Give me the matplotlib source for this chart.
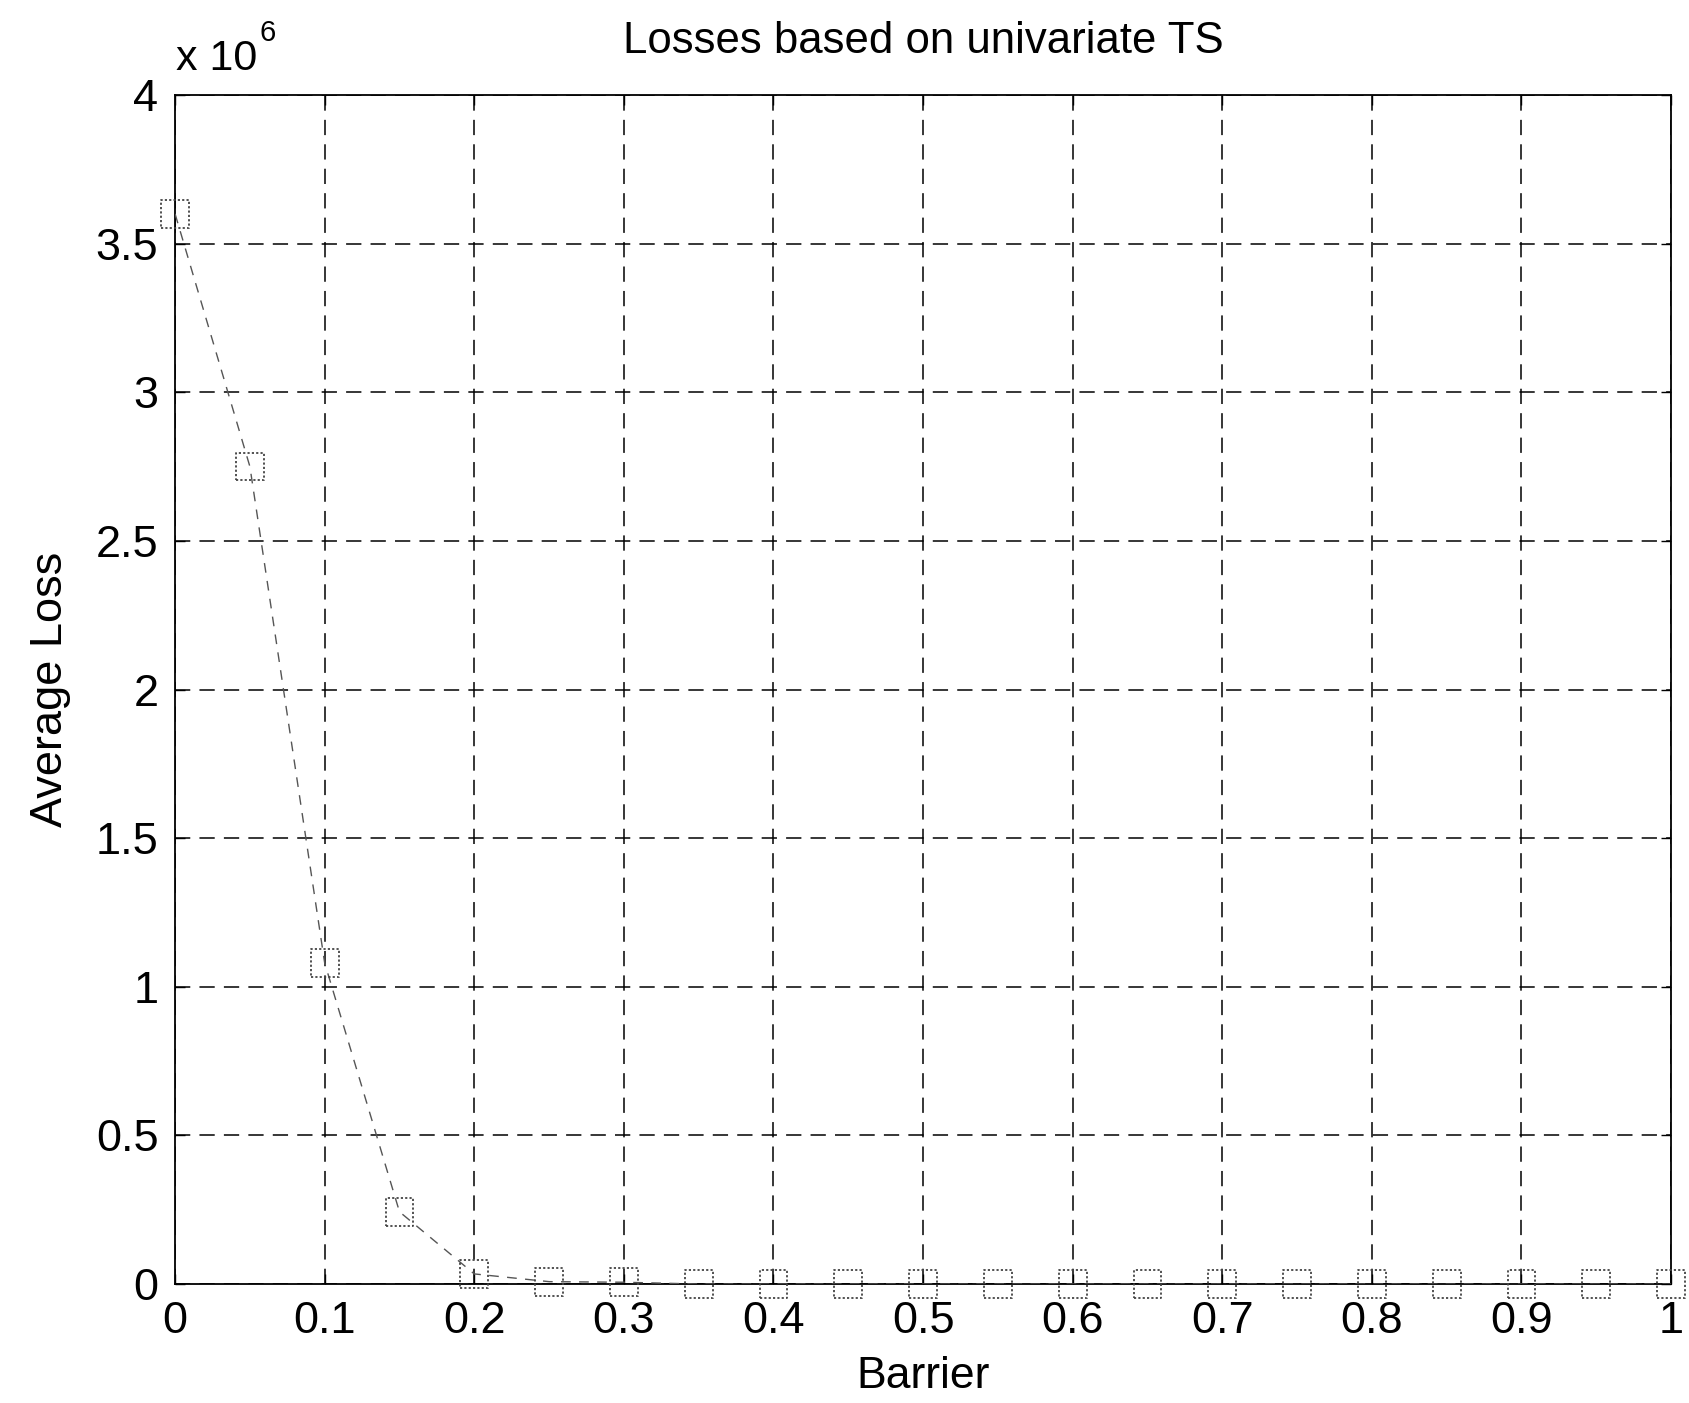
import matplotlib
matplotlib.use("Agg")
import matplotlib.pyplot as plt
import numpy as np

barrier = [0.0, 0.05, 0.10, 0.15, 0.20, 0.25, 0.30, 0.35, 0.40, 0.45, 0.50,
           0.55, 0.60, 0.65, 0.70, 0.75, 0.80, 0.85, 0.90, 0.95, 1.0]
avg_loss = [3.60e6, 2.75e6, 1.08e6, 0.243e6, 0.034e6, 0.008e6, 0.006e6, 0.0, 0.0, 0.0, 0.0,
            0.0, 0.0, 0.0, 0.0, 0.0, 0.0, 0.0, 0.0, 0.0, 0.0]
xticks = [0, 0.1, 0.2, 0.3, 0.4, 0.5, 0.6, 0.7, 0.8, 0.9, 1.0]
xticklabels = ["0", "0.1", "0.2", "0.3", "0.4", "0.5", "0.6", "0.7", "0.8", "0.9", "1"]
yticks = [0, 0.5e6, 1e6, 1.5e6, 2e6, 2.5e6, 3e6, 3.5e6, 4e6]
yticklabels = ["0", "0.5", "1", "1.5", "2", "2.5", "3", "3.5", "4"]

plt.rcParams['font.family'] = ['Liberation Sans', 'DejaVu Sans']

fig = plt.figure(figsize=(16.9, 14.03), dpi=100)
ax = fig.add_axes([0.1036, 0.0848, 0.8852, 0.8475])

ax.plot(barrier, avg_loss, linestyle=(0, (7, 6)), color='#555555', linewidth=1.0, zorder=3)
ax.scatter(barrier, avg_loss, marker='s', s=400, facecolors='none', edgecolors='#444444',
           linewidths=1.3, linestyle=(0, (1.2, 1.2)), zorder=4, clip_on=False)

ax.set_xlim(0, 1)
ax.set_ylim(0, 4e6)
ax.set_xticks(xticks)
ax.set_xticklabels(xticklabels)
ax.set_yticks(yticks)
ax.set_yticklabels(yticklabels)
ax.tick_params(direction='in', length=7, width=1, labelsize=32.5, pad=12, top=True, right=True)
ax.grid(True, color='black', linestyle=(0, (10, 6)), linewidth=1.1)
for sp in ax.spines.values():
    sp.set_linewidth(1.3)

ax.set_title("Losses based on univariate TS", fontsize=31.5, pad=30)
ax.set_xlabel("Barrier", fontsize=32, labelpad=10)
ax.set_ylabel("Average Loss", fontsize=32.5, labelpad=18)
fig.text(0.104, 0.950, "x 10", fontsize=31, ha='left', va='baseline')
fig.text(0.1535, 0.971, "6", fontsize=21, ha='left', va='baseline')

fig.savefig("out.png", dpi=100, facecolor='white')
